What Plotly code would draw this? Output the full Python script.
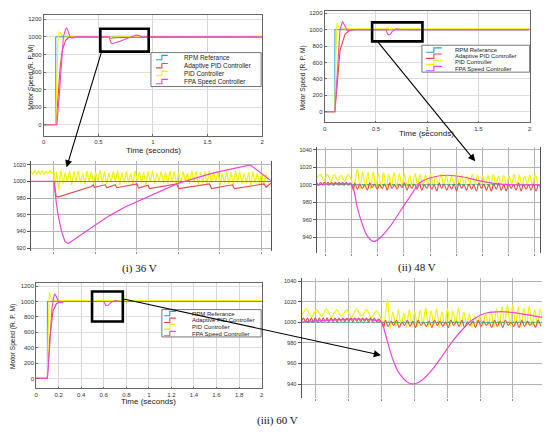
import plotly.graph_objects as go

# The page body has an 8px margin, so the figure is drawn 8px in from the window edge.
PAGE_OFF = 8
W, H = 550 - PAGE_OFF, 432 - PAGE_OFF

# ================= DATA =================
LEGEND_NAMES = ["RPM Referance", "Adaptive PID Controller", "PID Controller", "FPA Speed Controller"]
CAPTIONS = ["(i) 36 V", "(ii) 48 V", "(iii) 60 V"]

# ---- (i) 36 V full response ----
A_ref_t = [0, 0.11, 0.11, 2]
A_ref_v = [0, 0, 1000, 1000]
A_apid_t = [0, 0.11, 0.13, 0.15, 0.17, 0.2, 0.23, 0.27, 0.6, 0.603, 0.65, 0.8, 2]
A_apid_v = [0, 0, 300, 650, 850, 960, 995, 1000, 1000, 982, 990, 995, 998]
A_pid_t = [0, 0.11, 0.12, 0.13, 0.14, 0.15, 0.17, 0.2, 0.3, 0.6, 0.605, 0.615, 0.63, 0.65, 2]
A_pid_v = [0, 0, 500, 950, 1060, 1040, 1015, 1010, 1008, 1008, 975, 995, 1012, 1008, 1008]
A_fpa_t = [0, 0.12, 0.14, 0.16, 0.18, 0.2, 0.21, 0.225, 0.24, 0.26, 0.3, 0.6, 0.605, 0.615,
           0.625, 0.65, 0.7, 0.75, 0.8, 0.85, 0.87, 0.9, 2]
A_fpa_v = [0, 0, 300, 700, 1000, 1090, 1100, 1060, 1000, 985, 1000, 1000, 970, 930,
           922, 930, 950, 975, 1000, 1020, 1015, 1000, 1000]

# ---- (ii) 48 V full response ----
B_ref_t = [0, 0.1, 0.1, 2]
B_ref_v = [0, 0, 1000, 1000]
B_apid_t = [0, 0.1, 0.12, 0.15, 0.2, 0.25, 0.3, 0.6, 0.605, 0.65, 2]
B_apid_v = [0, 0, 300, 750, 950, 995, 1000, 1000, 995, 999, 1000]
B_pid_t = [0, 0.1, 0.11, 0.12, 0.135, 0.15, 0.2, 0.6, 0.61, 0.63, 0.66, 2]
B_pid_v = [0, 0, 700, 1080, 1040, 1020, 1010, 1010, 1025, 1005, 1010, 1010]
B_fpa_t = [0, 0.1, 0.13, 0.15, 0.175, 0.2, 0.22, 0.26, 0.6, 0.61, 0.62, 0.64, 0.66, 0.7, 0.75, 2]
B_fpa_v = [0, 0, 600, 1000, 1100, 1040, 990, 1000, 1000, 960, 938, 945, 980, 1010, 1000, 1000]

# ---- (iii) 60 V full response ----
C_ref_t = [0, 0.1, 0.1, 2]
C_ref_v = [0, 0, 1000, 1000]
C_apid_t = [0, 0.1, 0.12, 0.15, 0.18, 0.22, 2]
C_apid_v = [0, 0, 500, 880, 970, 1000, 1000]
C_pid_t = [0, 0.1, 0.11, 0.118, 0.13, 0.15, 0.2, 2]
C_pid_v = [0, 0, 800, 1120, 1060, 1010, 1010, 1010]
C_fpa_t = [0, 0.1, 0.12, 0.14, 0.155, 0.165, 0.18, 0.2, 0.22, 0.25, 0.6, 0.605, 0.62,
           0.64, 0.66, 0.7, 0.75, 2]
C_fpa_v = [0, 0, 400, 900, 1050, 1100, 1060, 990, 985, 1000, 1000, 985, 945,
           950, 985, 1010, 1000, 1000]

# ---- (i) zoom ----
D_ref_t = [0.5443, 1.1232]
D_ref_v = [1000, 1000]
D_apid_t = [0.5443, 0.6, 0.6053, 0.6112, 0.6902, 0.695, 0.6974, 0.7237, 0.7273, 0.7476, 0.7512,
            0.8002, 0.8038, 0.8266, 0.8301, 0.8959, 0.9007, 0.9749, 0.9797, 1.0299, 1.0347,
            1.1065, 1.1112, 1.1232]
D_apid_v = [1000, 1000, 982, 981.5, 994, 996, 993, 996, 992.5, 996, 992.5,
            997, 992, 995.5, 991.5, 997, 991.5, 997, 991.5, 996, 991.5,
            997, 993, 998]
D_pid_pre_t0, D_pid_pre_dt = 0.5443, 0.0046
D_pid_pre_v = [1012, 1009, 1013, 1009, 1012, 1009, 1013, 1009, 1012, 1010, 1013, 1010]
D_pid_drop_t = [0.6, 0.602, 0.604]
D_pid_drop_v = [1011, 988, 1000]
D_pid_post_t0, D_pid_post_dt = 0.606, 0.00526
D_pid_peaks = [1012, 1013, 1011, 1013, 1012, 1013, 1010, 1013, 1012, 1011, 1013, 1012, 1010, 1012,
               1013, 1011, 1012, 1010, 1013, 1012, 1011, 1012, 1013, 1010, 1012, 1011, 1013, 1012,
               1011, 1012, 1010, 1013, 1012, 1011, 1012, 1013, 1011, 1012, 1010, 1012, 1011, 1013,
               1012, 1010, 1011, 1012, 1010, 1011, 1009]
D_pid_troughs = [990, 997, 999, 996, 1000, 998, 997, 999, 996, 1000, 998, 997, 999, 1000,
                 996, 998, 999, 997, 1000, 998, 996, 999, 997, 1000, 998, 997, 999, 996,
                 998, 1000, 997, 999, 996, 998, 997, 999, 1000, 996, 998, 997, 995, 999,
                 997, 998, 995, 998, 997, 996, 998]
D_fpa_t = [0.5443, 0.6, 0.6048, 0.6105, 0.6184, 0.6263, 0.6344, 0.6543, 0.6943, 0.734, 0.7739,
           0.8337, 0.9007, 0.9821, 1.073, 1.1225]
D_fpa_v = [1000, 1000, 978, 958, 940, 928, 925.6, 932, 946, 959, 970,
           983, 998, 1010, 1020, 1001]

# ---- (ii) zoom ----
E_ref_t = [0.5335, 0.96]
E_ref_v = [1000, 1000]
E_apid_pre_t0, E_apid_pre_dt = 0.5335, 0.0035
E_apid_pre_v = [1002, 1000, 1003, 1000, 1003, 1000.5, 1003, 1000, 1003, 1000, 1003, 1000.5, 1003,
                1000, 1003, 1000, 1003, 1000.5, 1002]
E_apid_drop_t = [0.6, 0.603]
E_apid_drop_v = [1000, 994]
E_apid_post_t0, E_apid_post_dt = 0.606, 0.00475
E_apid_peaks = [1002, 1001, 1000, 1002, 1001, 1000, 1001, 1002, 1000, 1001, 1002, 1000, 1001,
                1002, 1000, 1001, 1000, 1002, 1001, 1000, 1001, 1002, 1000, 1001, 1000, 1002,
                1001, 1000, 1001, 1002, 1000, 1001, 1000, 1002, 1001, 1000, 1001, 1000]
E_apid_troughs = [995, 996, 994, 997, 995, 996, 994, 996, 995, 997, 994, 996, 995,
                  994, 996, 995, 993, 996, 994, 995, 993, 996, 994, 995, 993, 996,
                  994, 993, 995, 994, 993, 996, 994, 993, 995, 994, 993, 995]
E_pid_pre_t0, E_pid_pre_dt = 0.5335, 0.0066
E_pid_pre_v = [1008, 1012, 1005, 1012, 1004, 1012, 1005, 1011, 1004, 1012, 1005]
E_pid_drop_t = [0.603, 0.606]
E_pid_drop_v = [996, 1003]
E_pid_post_t0, E_pid_post_dt = 0.611, 0.005
E_pid_peaks = [1018, 1015, 1014, 1015, 1013, 1014, 1012, 1014, 1013, 1012, 1011, 1013, 1012,
               1011, 1012, 1010, 1012, 1011, 1010, 1012, 1011, 1010, 1012, 1011, 1010, 1011,
               1012, 1010, 1011, 1010, 1012, 1011, 1010, 1011, 1012]
E_pid_troughs = [995, 996, 995, 997, 996, 997, 998, 997, 999, 998, 999, 1000, 999,
                 1000, 999, 1001, 1000, 999, 1001, 1000, 999, 1001, 1000, 1001, 999, 1000,
                 1001, 1000, 999, 1001, 1000, 999, 1001, 1000, 999]
E_fpa_t = [0.5335, 0.6, 0.6044, 0.6106, 0.6202, 0.6297, 0.6424, 0.6551, 0.6741, 0.6932, 0.7122,
           0.7312, 0.7565, 0.7817, 0.8135, 0.8452, 0.8833, 0.9593]
E_fpa_v = [1000, 1000, 993, 974, 955, 941.6, 935, 939.7, 953, 970, 987,
           1002.7, 1009, 1011, 1009, 1004.6, 1000.8, 1000]

# ---- (iii) zoom ----
F_ref_t = [0.4782, 0.8473]
F_ref_v = [1000, 1000]
F_apid_pre_t0, F_apid_pre_dt = 0.4782, 0.003
F_apid_pre_v = [1001, 1004, 1000.5, 1004, 1001, 1004, 1000.5, 1004, 1001, 1004,
                1000.5, 1004, 1001, 1004, 1000.5, 1004, 1001, 1004, 1000.5, 1004,
                1001, 1004, 1000.5, 1004, 1001, 1004, 1000.5, 1004, 1001, 1004,
                1000.5, 1004, 1001, 1004, 1000.5, 1004, 1001, 1004, 1000.5, 1003]
F_apid_drop_t = [0.6, 0.603]
F_apid_drop_v = [1000, 995]
F_apid_post_t0, F_apid_post_dt = 0.606, 0.00415
F_apid_peaks = [1002, 1001, 1002, 1000, 1002, 1001, 1002, 1000, 1001, 1002, 1001, 1000, 1002,
                1001, 1002, 1000, 1001, 1002, 1001, 1000, 1002, 1001, 1002, 1000, 1001, 1002,
                1001, 1000, 1002]
F_apid_troughs = [996, 997, 995, 997, 996, 995, 997, 996, 995, 997, 996, 995, 997,
                  996, 995, 997, 995, 996, 997, 995, 996, 995, 997, 996, 995, 996,
                  997, 995, 996]
F_pid_pre_t0, F_pid_pre_dt = 0.4782, 0.0076
F_pid_pre_v = [1006, 1013, 1005, 1012, 1006, 1013, 1005, 1012, 1006, 1012, 1005, 1013, 1006,
               1012, 1005, 1011]
F_pid_drop_t = [0.6, 0.603]
F_pid_drop_v = [1002, 995]
F_pid_post_t0, F_pid_post_dt = 0.609, 0.00415
F_pid_peaks = [1022, 1010, 1012, 1009, 1012, 1010, 1012, 1014, 1011, 1013, 1010, 1013, 1011,
               1014, 1010, 1008, 1006, 1007, 1008, 1011, 1013, 1015, 1017, 1017, 1015, 1014,
               1016, 1012, 1013]
F_pid_troughs = [994, 996, 997, 995, 997, 996, 998, 996, 997, 995, 997, 996, 998,
                 996, 997, 995, 998, 996, 997, 995, 996, 998, 996, 997, 995, 997,
                 996, 997, 996]
F_fpa_t = [0.4782, 0.6, 0.6041, 0.6091, 0.6166, 0.6267, 0.6418, 0.6509, 0.6619, 0.677, 0.6921,
           0.7073, 0.7224, 0.7375, 0.7577, 0.7828, 0.808, 0.8332, 0.8518]
F_fpa_v = [1000, 1000, 992.5, 981, 965, 950.6, 941, 940.3, 944, 954, 967,
           981, 992.5, 1002, 1008.7, 1010.3, 1008.7, 1006, 1004]

# ================= HELPERS =================
C_REF = "#239fd2"
C_APID = "#ec4a4a"
C_PID = "#f4f400"
C_FPA = "#ee46d8"
COLORS = [C_REF, C_APID, C_PID, C_FPA]


def seq_t(t0, dt, n):
    return [t0 + i * dt for i in range(n)]


def zigzag(peaks, troughs):
    out = []
    for p, q in zip(peaks, troughs):
        out += [p, q]
    return out


def osc_series(pre_t0, pre_dt, pre_v, drop_t, drop_v, post_t0, post_dt, post_v):
    t = seq_t(pre_t0, pre_dt, len(pre_v)) + list(drop_t) + seq_t(post_t0, post_dt, len(post_v))
    v = list(pre_v) + list(drop_v) + list(post_v)
    return t, v


def X(px):
    return (px - PAGE_OFF) / W


def Y(py):
    return 1 - (py - PAGE_OFF) / H


fig = go.Figure()


def add(t, v, color, ax, width=1.0, dash=None, shape="linear"):
    n = "" if ax == 1 else str(ax)
    fig.add_trace(go.Scatter(x=t, y=v, mode="lines", xaxis="x" + n, yaxis="y" + n,
                             line=dict(color=color, width=width, dash=dash, shape=shape),
                             showlegend=False, hoverinfo="skip"))


# main plots
for ax, (rt, rv, at, av, pt, pv, ft, fv) in zip(
        [1, 2, 3],
        [(A_ref_t, A_ref_v, A_apid_t, A_apid_v, A_pid_t, A_pid_v, A_fpa_t, A_fpa_v),
         (B_ref_t, B_ref_v, B_apid_t, B_apid_v, B_pid_t, B_pid_v, B_fpa_t, B_fpa_v),
         (C_ref_t, C_ref_v, C_apid_t, C_apid_v, C_pid_t, C_pid_v, C_fpa_t, C_fpa_v)]):
    add(rt, rv, C_REF, ax, 1.0)
    add(at, av, C_APID, ax, 1.1)
    add(pt, pv, C_PID, ax, 1.1)
    add(ft, fv, C_FPA, ax, 1.1)

# zoom (i)
Dp_t, Dp_v = osc_series(D_pid_pre_t0, D_pid_pre_dt, D_pid_pre_v, D_pid_drop_t, D_pid_drop_v,
                        D_pid_post_t0, D_pid_post_dt, zigzag(D_pid_peaks, D_pid_troughs))
add(Dp_t, Dp_v, C_PID, 4, 1.2)
add(D_ref_t, D_ref_v, C_REF, 4, 1.1)
add(D_apid_t, D_apid_v, C_APID, 4, 1.1)
add(D_fpa_t, D_fpa_v, C_FPA, 4, 1.2)

# zoom (ii)
Ep_t, Ep_v = osc_series(E_pid_pre_t0, E_pid_pre_dt, E_pid_pre_v, E_pid_drop_t, E_pid_drop_v,
                        E_pid_post_t0, E_pid_post_dt, zigzag(E_pid_peaks, E_pid_troughs))
Ea_t, Ea_v = osc_series(E_apid_pre_t0, E_apid_pre_dt, E_apid_pre_v, E_apid_drop_t, E_apid_drop_v,
                        E_apid_post_t0, E_apid_post_dt, zigzag(E_apid_peaks, E_apid_troughs))
add(Ep_t, Ep_v, C_PID, 5, 1.2, shape="spline")
add(Ea_t, Ea_v, C_APID, 5, 1.1, shape="spline")
add(E_ref_t, E_ref_v, "#2a9f9f", 5, 1.0, dash="3px,2px")
add(E_fpa_t, E_fpa_v, C_FPA, 5, 1.2, shape="spline")

# zoom (iii)
Fp_t, Fp_v = osc_series(F_pid_pre_t0, F_pid_pre_dt, F_pid_pre_v, F_pid_drop_t, F_pid_drop_v,
                        F_pid_post_t0, F_pid_post_dt, zigzag(F_pid_peaks, F_pid_troughs))
Fa_t, Fa_v = osc_series(F_apid_pre_t0, F_apid_pre_dt, F_apid_pre_v, F_apid_drop_t, F_apid_drop_v,
                        F_apid_post_t0, F_apid_post_dt, zigzag(F_apid_peaks, F_apid_troughs))
add(Fp_t, Fp_v, C_PID, 6, 1.2, shape="spline")
add(Fa_t, Fa_v, C_APID, 6, 1.1, shape="spline")
add(F_ref_t, F_ref_v, "#2a9f9f", 6, 1.0, dash="3px,2px")
add(F_fpa_t, F_fpa_v, C_FPA, 6, 1.2, shape="spline")

# ================= AXES =================
TICKFONT = dict(size=6, family="Liberation Sans", color="#333")
ZTICKFONT = dict(size=5.6, family="Liberation Sans", color="#333")


def main_axes(xd, yd, yrange, xticks, xlabels):
    xa = dict(domain=[X(xd[0]), X(xd[1])], range=[0, 2], showline=True, mirror=True,
              linecolor="#666", linewidth=0.8, showgrid=True, gridcolor="#d6d6d6", gridwidth=0.6,
              ticks="inside", ticklen=2, tickcolor="#666", tickfont=TICKFONT, zeroline=False,
              tickmode="array", tickvals=xticks, ticktext=xlabels, fixedrange=True)
    ya = dict(domain=[Y(yd[1]), Y(yd[0])], range=yrange, showline=True, mirror=True,
              linecolor="#666", linewidth=0.8, showgrid=True, gridcolor="#dedede", gridwidth=0.6,
              ticks="inside", ticklen=2, tickcolor="#666", tickfont=TICKFONT, zeroline=False,
              tickmode="array", tickvals=[0, 200, 400, 600, 800, 1000, 1200], fixedrange=True)
    return xa, ya


def zoom_axes(xd, yd, xrange, yrange, dtick, yticks):
    xa = dict(domain=[X(xd[0]), X(xd[1])], range=xrange, showline=False, showgrid=True,
              gridcolor="#b4b4b4", gridwidth=0.8, tick0=0.6, dtick=dtick, showticklabels=False,
              ticks="outside", ticklen=2, tickcolor="#888", zeroline=False, fixedrange=True)
    ya = dict(domain=[Y(yd[1]), Y(yd[0])], range=yrange, showline=True, mirror=True,
              linecolor="#555", linewidth=0.9, showgrid=True, gridcolor="#b4b4b4", gridwidth=0.8,
              ticks="outside", ticklen=3, tickcolor="#555", tickfont=ZTICKFONT, zeroline=False,
              tickmode="array", tickvals=yticks, fixedrange=True)
    return xa, ya


half_ticks = [0, 0.5, 1, 1.5, 2]
half_labels = ["0", "0.5", "1", "1.5", "2"]
fifth_ticks = [0, 0.2, 0.4, 0.6, 0.8, 1.0, 1.2, 1.4, 1.6, 1.8, 2.0]
fifth_labels = ["0", "0.2", "0.4", "0.6", "0.8", "1", "1.2", "1.4", "1.6", "1.8", "2"]

xa1, ya1 = main_axes((42, 262), (14, 135), [-125, 1249], half_ticks, half_labels)
xa2, ya2 = main_axes((325, 531.5), (10, 121.7), [-130, 1228], half_ticks, half_labels)
xa3, ya3 = main_axes((34.3, 261.5), (282.7, 388.3), [-130, 1239], fifth_ticks, fifth_labels)
xa4, ya4 = zoom_axes((29, 271), (160, 251), [0.5443, 1.1232], [916, 1025], 0.1,
                     [920, 940, 960, 980, 1000, 1020])
xa5, ya5 = zoom_axes((317.3, 541.7), (146, 252.7), [0.5335, 0.96], [921.7, 1043.8], 0.05,
                     [940, 960, 980, 1000, 1020, 1040])
xa6, ya6 = zoom_axes((301.7, 546), (278, 398), [0.4782, 0.8473], [926.4, 1042.6], 0.05,
                     [940, 960, 980, 1000, 1020, 1040])

for i, (xa, ya) in enumerate([(xa1, ya1), (xa2, ya2), (xa3, ya3), (xa4, ya4), (xa5, ya5), (xa6, ya6)], 1):
    n = "" if i == 1 else str(i)
    xa["anchor"] = "y" + n
    ya["anchor"] = "x" + n

shapes = []
annotations = []

# zoom boxes on the main plots
for xr, yr, n in [((0.518, 0.961), (832, 1093), ""), ((0.463, 0.954), (858, 1089), "2"),
                  ((0.496, 0.769), (740, 1130), "3")]:
    shapes.append(dict(type="rect", xref="x" + n, yref="y" + n, x0=xr[0], x1=xr[1], y0=yr[0],
                       y1=yr[1], line=dict(color="black", width=2.6)))


# legends
def legend(x0, x1, y0, y1, item_y, sym_x0, sym_x1, text_x, fsize):
    shapes.append(dict(type="rect", xref="paper", yref="paper", x0=X(x0), x1=X(x1), y0=Y(y1),
                       y1=Y(y0), fillcolor="white", line=dict(color="#555", width=0.8)))
    for name, col, yy in zip(LEGEND_NAMES, COLORS, item_y):
        xm = (sym_x0 + sym_x1) / 2
        path = "M {:.4f},{:.4f} H {:.4f} V {:.4f} H {:.4f}".format(
            X(sym_x0), Y(yy + 2.2), X(xm), Y(yy - 2.2), X(sym_x1))
        shapes.append(dict(type="path", xref="paper", yref="paper", path=path,
                           line=dict(color=col, width=1.1)))
        annotations.append(dict(x=X(text_x), y=Y(yy), xref="paper", yref="paper", text=name,
                                showarrow=False, xanchor="left", yanchor="middle",
                                font=dict(size=fsize, family="Liberation Sans", color="#222")))


legend(150, 261, 51.7, 85.7, [56.7, 64.8, 72.7, 80.7], 155, 167, 181.7, 6.4)
legend(423, 531.5, 44.3, 71.3, [49.2, 55.3, 61.5, 67.7], 427, 443, 454.3, 5.9)
legend(161, 261, 309.3, 336.7, [313.3, 320, 326.7, 333.3], 163, 175, 189, 6.0)

# arrows
for hx, hy, tx, ty in [(65, 166.7, 100, 51), (476.7, 160.7, 378.3, 40), (381.7, 355, 121.7, 298.3)]:
    annotations.append(dict(x=X(hx), y=Y(hy), xref="paper", yref="paper", text="",
                            showarrow=True, ax=tx - hx, ay=ty - hy, arrowhead=2, arrowsize=1.3,
                            arrowwidth=1.1, arrowcolor="black"))

# axis titles
for x, y in [(28.3, 76.7), (302.7, 77), (11.7, 336)]:
    annotations.append(dict(x=X(x), y=Y(y), xref="paper", yref="paper",
                            text="Motor Speed (R. P. M)", textangle=-90, showarrow=False,
                            xanchor="center", yanchor="middle",
                            font=dict(size=6.6, family="Liberation Sans", color="#222")))
for x, y in [(153, 150), (428, 133), (148, 401)]:
    annotations.append(dict(x=X(x), y=Y(y), xref="paper", yref="paper", text="Time (seconds)",
                            showarrow=False, xanchor="center", yanchor="middle",
                            font=dict(size=8, family="Liberation Sans", color="#222")))

# captions
for txt, (x, y) in zip(CAPTIONS, [(138.3, 267.7), (418.3, 267.3), (277.7, 420)]):
    annotations.append(dict(x=X(x), y=Y(y), xref="paper", yref="paper", text=txt,
                            showarrow=False, xanchor="center", yanchor="middle",
                            font=dict(size=11, family="Liberation Serif", color="#111")))

fig.update_layout(
    width=W, height=H, autosize=False, margin=dict(l=0, r=0, t=0, b=0),
    paper_bgcolor="white", plot_bgcolor="white", showlegend=False,
    xaxis=xa1, yaxis=ya1, xaxis2=xa2, yaxis2=ya2, xaxis3=xa3, yaxis3=ya3,
    xaxis4=xa4, yaxis4=ya4, xaxis5=xa5, yaxis5=ya5, xaxis6=xa6, yaxis6=ya6,
    shapes=shapes, annotations=annotations,
)

fig.write_html("out.html")
